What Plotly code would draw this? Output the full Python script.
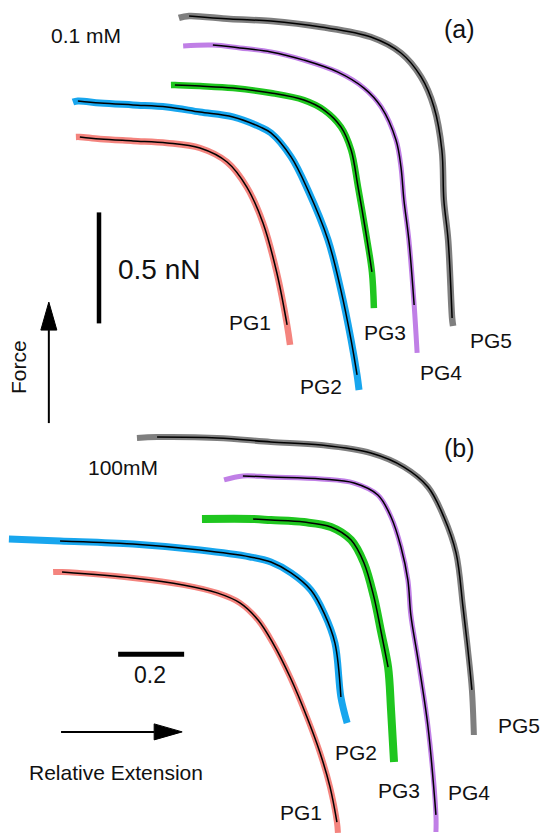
import plotly.graph_objects as go

# ---------------- data (relative extension, force in nN) ----------------
LABELS = ["PG1", "PG2", "PG3", "PG4", "PG5"]
COLORS = ["#f4847e", "#18a6ee", "#1fc61f", "#c07fe6", "#7f7f7f"]

# Panel (a) 0.1 mM
A_PG1_X = [0.230, 0.242, 0.303, 0.403, 0.506, 0.606, 0.688, 0.748, 0.797, 0.839, 0.870, 0.879]
A_PG1_F = [3.140, 3.140, 3.131, 3.122, 3.113, 3.090, 3.027, 2.914, 2.752, 2.527, 2.293, 2.203]
A_PG2_X = [0.221, 0.236, 0.303, 0.403, 0.506, 0.606, 0.706, 0.788, 0.821, 0.882, 0.933, 0.994, 1.033, 1.064, 1.082, 1.088]
A_PG2_F = [3.297, 3.302, 3.293, 3.284, 3.275, 3.252, 3.230, 3.185, 3.158, 3.050, 2.901, 2.676, 2.450, 2.225, 2.068, 2.000]
A_PG3_X = [0.518, 0.530, 0.606, 0.706, 0.821, 0.921, 0.982, 1.033, 1.064, 1.085, 1.109, 1.127, 1.133]
A_PG3_F = [3.374, 3.374, 3.369, 3.360, 3.338, 3.306, 3.261, 3.185, 3.081, 2.914, 2.707, 2.532, 2.369]
A_PG4_X = [0.555, 0.645, 0.727, 0.821, 0.921, 1.024, 1.103, 1.155, 1.200, 1.215, 1.224, 1.239, 1.255, 1.264]
A_PG4_F = [3.550, 3.554, 3.541, 3.523, 3.486, 3.432, 3.360, 3.275, 3.126, 3.005, 2.856, 2.676, 2.383, 2.167]
A_PG5_X = [0.542, 0.573, 0.697, 0.821, 0.973, 1.124, 1.215, 1.276, 1.315, 1.339, 1.345, 1.358, 1.370, 1.373]
A_PG5_F = [3.676, 3.685, 3.671, 3.662, 3.635, 3.590, 3.518, 3.410, 3.275, 3.081, 2.856, 2.676, 2.324, 2.288]

# Panel (b) 100 mM
B_PG1_X = [0.161, 0.188, 0.403, 0.555, 0.658, 0.727, 0.782, 0.827, 0.879, 0.930, 0.970, 1.000, 1.021, 1.024]
B_PG1_F = [1.180, 1.180, 1.153, 1.122, 1.086, 1.041, 0.964, 0.860, 0.707, 0.527, 0.365, 0.212, 0.054, 0.005]
B_PG2_X = [0.027, 0.182, 0.403, 0.606, 0.758, 0.821, 0.882, 0.942, 0.982, 1.015, 1.033, 1.052]
B_PG2_F = [1.329, 1.320, 1.306, 1.279, 1.248, 1.225, 1.176, 1.099, 0.995, 0.860, 0.617, 0.500]
B_PG3_X = [0.612, 0.767, 0.821, 0.921, 1.003, 1.064, 1.103, 1.133, 1.155, 1.176, 1.185, 1.194]
B_PG3_F = [1.419, 1.419, 1.414, 1.405, 1.383, 1.324, 1.221, 1.068, 0.910, 0.752, 0.559, 0.324]
B_PG4_X = [0.679, 0.736, 0.821, 0.973, 1.073, 1.145, 1.185, 1.215, 1.236, 1.245, 1.267, 1.297, 1.321, 1.321]
B_PG4_F = [1.595, 1.613, 1.608, 1.599, 1.581, 1.527, 1.428, 1.293, 1.144, 0.986, 0.784, 0.482, 0.086, 0.009]
B_PG5_X = [0.415, 0.476, 0.658, 0.821, 0.973, 1.124, 1.224, 1.297, 1.345, 1.382, 1.403, 1.418, 1.430, 1.436]
B_PG5_F = [1.784, 1.788, 1.784, 1.766, 1.752, 1.716, 1.653, 1.563, 1.428, 1.266, 1.023, 0.829, 0.649, 0.446]

# number of measured points outside the fitted (black) curve: (start, end)
A_FIT_TRIM = [(1, 1), (1, 1), (1, 1), (1, 1), (1, 1)]
B_FIT_TRIM = [(1, 1), (1, 1), (1, 2), (1, 1), (1, 1)]

# label anchor positions (extension, force)
A_LABEL_X = [0.758, 0.973, 1.167, 1.336, 1.488]
A_LABEL_F = [2.306, 2.014, 2.261, 2.081, 2.225]
B_LABEL_X = [0.912, 1.079, 1.209, 1.421, 1.573]
B_LABEL_F = [0.095, 0.369, 0.198, 0.185, 0.491]

# scale bars
FORCE_BAR = 0.5      # nN
FORCE_BAR_X = 0.300
FORCE_BAR_F0 = 2.300
EXT_BAR = 0.2        # relative extension
EXT_BAR_X0 = 0.358
EXT_BAR_F = 0.810

# ---------------- figure ----------------
X_MAX = 542 / 330
F_MAX = 834 / 222
FONT = "Liberation Sans, Arial, sans-serif"

fig = go.Figure()

panels = [
    ([A_PG1_X, A_PG2_X, A_PG3_X, A_PG4_X, A_PG5_X],
     [A_PG1_F, A_PG2_F, A_PG3_F, A_PG4_F, A_PG5_F], A_FIT_TRIM, [6.5, 7.0, 6.5, 5.0, 6.5]),
    ([B_PG1_X, B_PG2_X, B_PG3_X, B_PG4_X, B_PG5_X],
     [B_PG1_F, B_PG2_F, B_PG3_F, B_PG4_F, B_PG5_F], B_FIT_TRIM, [6.0, 7.0, 8.0, 5.0, 6.0]),
]

for xs_list, fs_list, trims, widths in panels:
    for xs, fs, (t0, t1), col, w in zip(xs_list, fs_list, trims, COLORS, widths):
        fig.add_trace(go.Scatter(x=xs, y=fs, mode="lines",
                                 line=dict(color=col, width=w, shape="spline", smoothing=1.0),
                                 hoverinfo="skip"))
        fig.add_trace(go.Scatter(x=xs[t0:len(xs) - t1], y=fs[t0:len(fs) - t1], mode="lines",
                                 line=dict(color="#000000", width=1.5, shape="spline", smoothing=1.0),
                                 hoverinfo="skip"))

# scale bars
fig.add_trace(go.Scatter(x=[FORCE_BAR_X, FORCE_BAR_X], y=[FORCE_BAR_F0, FORCE_BAR_F0 + FORCE_BAR],
                         mode="lines", line=dict(color="black", width=4.5), hoverinfo="skip"))
fig.add_trace(go.Scatter(x=[EXT_BAR_X0, EXT_BAR_X0 + EXT_BAR], y=[EXT_BAR_F, EXT_BAR_F],
                         mode="lines", line=dict(color="black", width=5), hoverinfo="skip"))

# direction arrows (Force up, Relative Extension right)
HEAD_LEN_PX, HEAD_HALF_PX = 28, 8
fx, f0, f1 = 0.148, 1.851, 2.396
hl, hw = HEAD_LEN_PX / 222, HEAD_HALF_PX / 330
fig.add_trace(go.Scatter(x=[fx, fx], y=[f0, f1 - hl], mode="lines",
                         line=dict(color="black", width=2), hoverinfo="skip"))
fig.add_trace(go.Scatter(x=[fx - hw, fx + hw, fx, fx - hw], y=[f1 - hl, f1 - hl, f1, f1 - hl],
                         mode="lines", fill="toself", fillcolor="black",
                         line=dict(color="black", width=1), hoverinfo="skip"))
ey, e0, e1 = 0.460, 0.185, 0.552
hl2, hw2 = HEAD_LEN_PX / 330, HEAD_HALF_PX / 222
fig.add_trace(go.Scatter(x=[e0, e1 - hl2], y=[ey, ey], mode="lines",
                         line=dict(color="black", width=2), hoverinfo="skip"))
fig.add_trace(go.Scatter(x=[e1 - hl2, e1 - hl2, e1, e1 - hl2], y=[ey - hw2, ey + hw2, ey, ey - hw2],
                         mode="lines", fill="toself", fillcolor="black",
                         line=dict(color="black", width=1), hoverinfo="skip"))

def text(x, y, s, size, angle=0):
    fig.add_annotation(x=x, y=y, xref="x", yref="y", text=s, showarrow=False,
                       textangle=angle, font=dict(family=FONT, size=size, color="#111111"),
                       xanchor="center", yanchor="middle")

for lab, x, y in zip(LABELS, A_LABEL_X, A_LABEL_F):
    text(x, y, lab, 21)
for lab, x, y in zip(LABELS, B_LABEL_X, B_LABEL_F):
    text(x, y, lab, 21)

text(0.261, 3.595, "0.1 mM", 21)
text(1.391, 3.626, "(a)", 25)
text(0.373, 1.653, "100mM", 21)
text(1.391, 1.739, "(b)", 25)
text(0.482, 2.545, "0.5 nN", 28)
text(0.455, 0.716, "0.2", 23)
text(0.058, 2.104, "Force", 21, angle=-90)
text(0.352, 0.275, "Relative Extension", 21)

fig.update_layout(
    width=542, height=834, autosize=False,
    margin=dict(l=0, r=0, t=0, b=0),
    paper_bgcolor="white", plot_bgcolor="white",
    showlegend=False,
    xaxis=dict(range=[0, X_MAX], visible=False, fixedrange=True),
    yaxis=dict(range=[0, F_MAX], visible=False, fixedrange=True),
)

fig.write_html("out.html")
